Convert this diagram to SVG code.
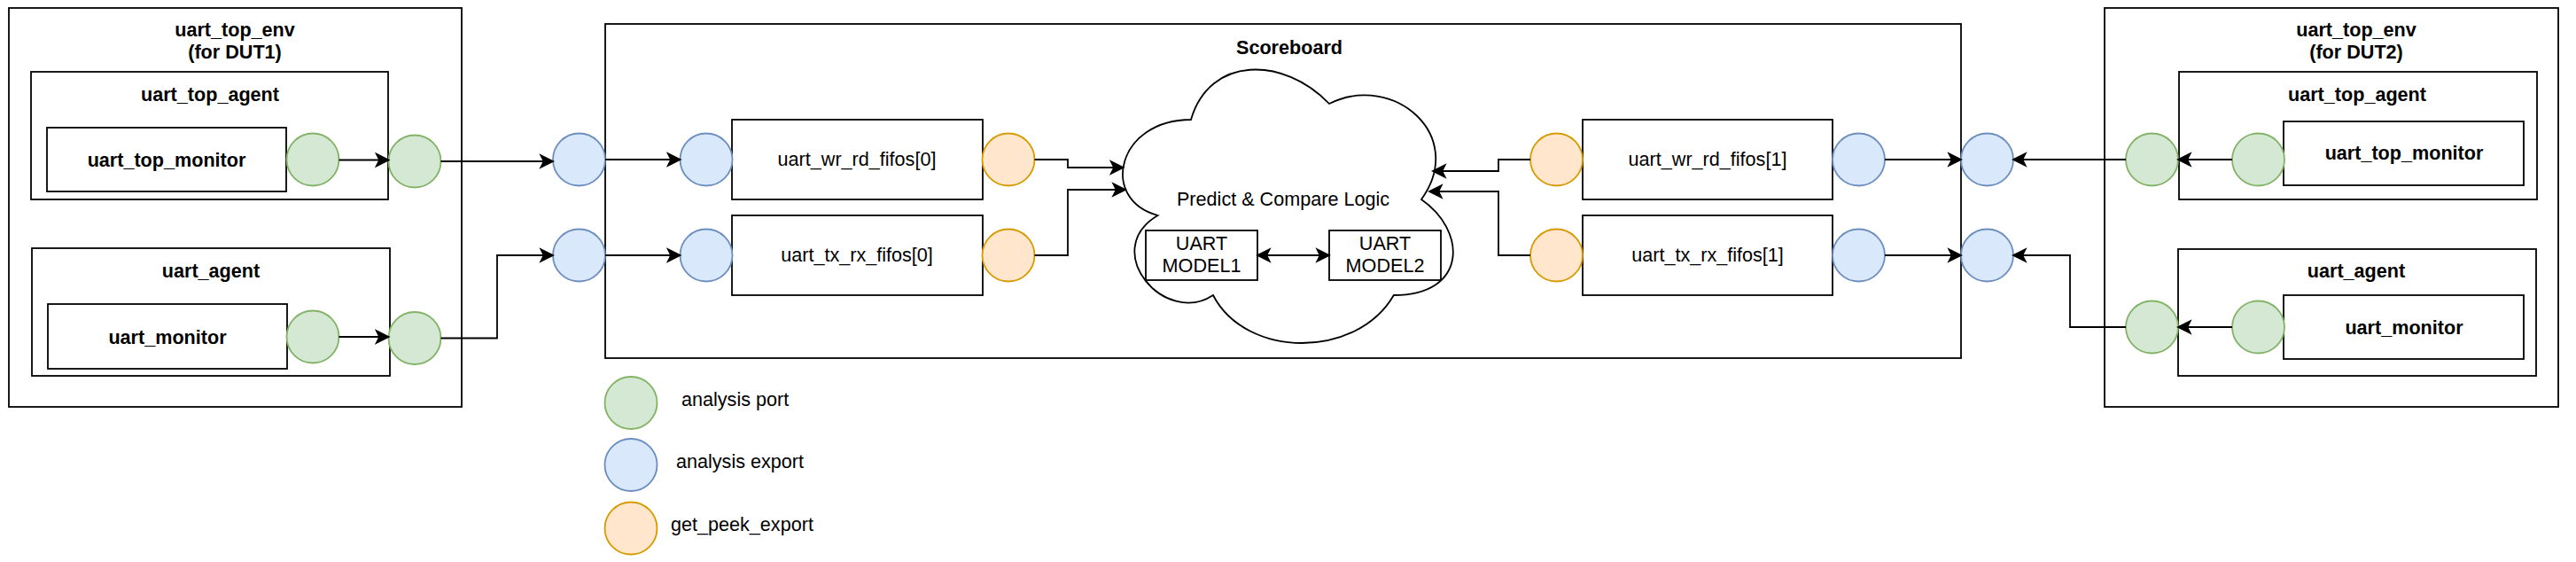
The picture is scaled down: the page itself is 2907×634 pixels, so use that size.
<svg xmlns="http://www.w3.org/2000/svg" width="2907" height="634" viewBox="0 0 2907 634">
<defs>
<style>
.box{fill:#fff;stroke:#000;stroke-width:1.8}
.cl{fill:#fff;stroke:#000;stroke-width:1.8}
.g{fill:#d5e8d4;stroke:#82b366;stroke-width:1.8}
.b{fill:#dae8fc;stroke:#6c8ebf;stroke-width:1.8}
.o{fill:#ffe6cc;stroke:#d79b00;stroke-width:1.8}
.t{font-family:"Liberation Sans",Arial,sans-serif;font-size:21.6px;text-anchor:middle;dominant-baseline:central;fill:#000}
.l{text-anchor:start}
.bd{font-weight:bold}
.e{fill:none;stroke:#000;stroke-width:1.8;marker-end:url(#arr)}
.e2{fill:none;stroke:#000;stroke-width:1.8;marker-end:url(#arr);marker-start:url(#arr)}
</style>
<marker id="arr" viewBox="-16 -9 18 18" refX="0" refY="0" markerWidth="18" markerHeight="18" markerUnits="userSpaceOnUse" orient="auto-start-reverse">
<path d="M0,0 L-13.6,-6.8 L-10.2,0 L-13.6,6.8 Z" fill="#000" stroke="#000" stroke-width="1.8"/>
</marker>
</defs>
<rect x="0" y="0" width="2907" height="634" fill="#fff"/>

<g id="env1">
<rect class="box" x="10" y="9" width="511" height="450"/>
<text class="t bd" x="265" y="33">uart_top_env</text>
<text class="t bd" x="265" y="58">(for DUT1)</text>
</g>
<g id="top_agent1">
<rect class="box" x="35" y="81" width="403" height="144"/>
<text class="t bd" x="237" y="106">uart_top_agent</text>
</g>
<g id="top_monitor1">
<rect class="box" x="53" y="144" width="270" height="72"/>
<text class="t bd" x="188" y="180">uart_top_monitor</text>
</g>
<g id="agent1">
<rect class="box" x="36" y="280" width="404" height="144"/>
<text class="t bd" x="238" y="305">uart_agent</text>
</g>
<g id="monitor1">
<rect class="box" x="54" y="343" width="270" height="73"/>
<text class="t bd" x="189" y="380">uart_monitor</text>
</g>

<g id="scoreboard">
<rect class="box" x="683" y="27" width="1530" height="377"/>
<text class="t bd" x="1455" y="53">Scoreboard</text>
</g>
<g id="fifo_wr_rd0">
<rect class="box" x="826" y="135" width="283" height="90"/>
<text class="t" x="967" y="179">uart_wr_rd_fifos[0]</text>
</g>
<g id="fifo_tx_rx0">
<rect class="box" x="826" y="243" width="283" height="90"/>
<text class="t" x="967" y="287">uart_tx_rx_fifos[0]</text>
</g>
<g id="fifo_wr_rd1">
<rect class="box" x="1786" y="135" width="282" height="90"/>
<text class="t" x="1927" y="179">uart_wr_rd_fifos[1]</text>
</g>
<g id="fifo_tx_rx1">
<rect class="box" x="1786" y="243" width="282" height="90"/>
<text class="t" x="1927" y="287">uart_tx_rx_fifos[1]</text>
</g>
<g id="cloud">
<path class="cl" d="M1344,135 C1260.8,135 1240,225 1306.56,243 C1240,282.6 1314.88,369 1368.96,333 C1406.4,405 1531.2,405 1572.8,333 C1656,333 1656,261 1604,225 C1656,153 1572.8,81 1500,117 C1448,63 1364.8,63 1344,135 Z"/>
<text class="t" x="1448" y="224">Predict &amp; Compare Logic</text>
</g>
<g id="model1">
<rect class="box" x="1293" y="260" width="126" height="56"/>
<text class="t" x="1356" y="274">UART</text>
<text class="t" x="1356" y="299">MODEL1</text>
</g>
<g id="model2">
<rect class="box" x="1500" y="260" width="126" height="56"/>
<text class="t" x="1563" y="274">UART</text>
<text class="t" x="1563" y="299">MODEL2</text>
</g>

<g id="env2">
<rect class="box" x="2375" y="9" width="512" height="450"/>
<text class="t bd" x="2659" y="33">uart_top_env</text>
<text class="t bd" x="2659" y="58">(for DUT2)</text>
</g>
<g id="top_agent2">
<rect class="box" x="2459" y="81" width="404" height="144"/>
<text class="t bd" x="2660" y="106">uart_top_agent</text>
</g>
<g id="top_monitor2">
<rect class="box" x="2577" y="137" width="271" height="72"/>
<text class="t bd" x="2713" y="172">uart_top_monitor</text>
</g>
<g id="agent2">
<rect class="box" x="2458" y="281" width="404" height="143"/>
<text class="t bd" x="2659" y="305">uart_agent</text>
</g>
<g id="monitor2">
<rect class="box" x="2577" y="333" width="271" height="72"/>
<text class="t bd" x="2713" y="369">uart_monitor</text>
</g>

<g id="ports">
<circle id="p_g1" class="g" cx="353" cy="180" r="29.5"/>
<circle id="p_g2" class="g" cx="468" cy="182" r="29.5"/>
<circle id="p_g3" class="g" cx="353" cy="380" r="29.5"/>
<circle id="p_g4" class="g" cx="468" cy="381.5" r="29.5"/>
<circle id="p_b1" class="b" cx="653.5" cy="180" r="29.5"/>
<circle id="p_b2" class="b" cx="653.5" cy="288" r="29.5"/>
<circle id="p_b3" class="b" cx="797" cy="180" r="29.5"/>
<circle id="p_b4" class="b" cx="797" cy="288" r="29.5"/>
<circle id="p_o1" class="o" cx="1138" cy="180" r="29.5"/>
<circle id="p_o2" class="o" cx="1138" cy="288" r="29.5"/>
<circle id="p_o3" class="o" cx="1756.5" cy="180" r="29.5"/>
<circle id="p_o4" class="o" cx="1756.5" cy="288" r="29.5"/>
<circle id="p_b5" class="b" cx="2097.5" cy="180" r="29.5"/>
<circle id="p_b6" class="b" cx="2097.5" cy="288" r="29.5"/>
<circle id="p_b7" class="b" cx="2242.5" cy="180" r="29.5"/>
<circle id="p_b8" class="b" cx="2242.5" cy="288" r="29.5"/>
<circle id="p_g5" class="g" cx="2428.5" cy="180" r="29.5"/>
<circle id="p_g6" class="g" cx="2548.5" cy="180" r="29.5"/>
<circle id="p_g7" class="g" cx="2428.5" cy="369" r="29.5"/>
<circle id="p_g8" class="g" cx="2548.5" cy="369" r="29.5"/>
</g>

<g id="connectors">
<path class="e" d="M382.5,180.5 L438.5,180.5"/>
<path class="e" d="M497.5,182 L624,182"/>
<path class="e" d="M382.5,380 L438.5,380"/>
<path class="e" d="M497.5,381.5 L561,381.5 L561,288 L624,288"/>
<path class="e" d="M683,180 L767.5,180"/>
<path class="e" d="M683,288 L767.5,288"/>
<path class="e" d="M1167.5,180 L1205,180 L1205,189 L1267.5,189"/>
<path class="e" d="M1167.5,288 L1205,288 L1205,214 L1270,214"/>
<path class="e2" d="M1419,288 L1500,288"/>
<path class="e" d="M1727,180 L1691,180 L1691,193 L1617,193"/>
<path class="e" d="M1727,288 L1691,288 L1691,216 L1613,216"/>
<path class="e" d="M2127,180 L2213,180"/>
<path class="e" d="M2127,288 L2213,288"/>
<path class="e" d="M2519,180 L2458,180"/>
<path class="e" d="M2399,180 L2272,180"/>
<path class="e" d="M2519,369 L2458,369"/>
<path class="e" d="M2399,369 L2336,369 L2336,288 L2272,288"/>
</g>

<g id="legend">
<circle class="g" cx="712" cy="454.5" r="29.5"/>
<text class="t l" x="769" y="450">analysis port</text>
<circle class="b" cx="712" cy="524.5" r="29.5"/>
<text class="t l" x="763" y="520">analysis export</text>
<circle class="o" cx="712" cy="596" r="29.5"/>
<text class="t l" x="757" y="591.5">get_peek_export</text>
</g>
</svg>
